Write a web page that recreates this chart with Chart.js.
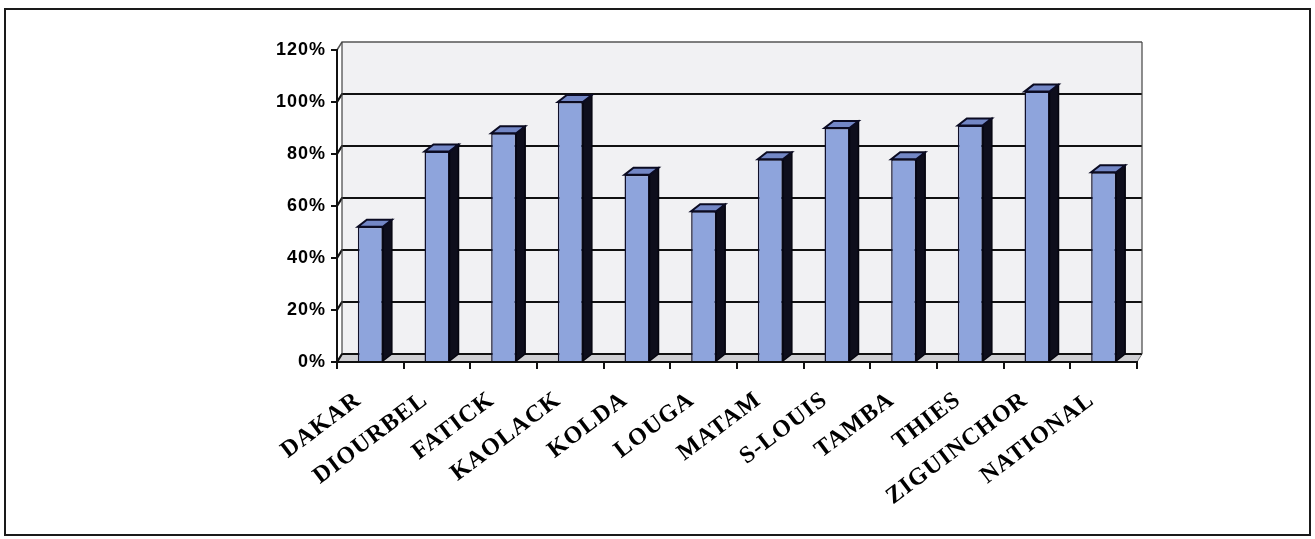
<!DOCTYPE html>
<html>
<head>
<meta charset="utf-8">
<script src="https://cdn.jsdelivr.net/npm/chart.js@4.4.1/dist/chart.umd.min.js"></script>
<style>
  html, body { margin: 0; padding: 0; background: #fff; }
  #wrap { position: relative; width: 1315px; height: 539px; }
</style>
</head>
<body>
<div id="wrap"><canvas id="myChart" width="1315" height="539"></canvas></div>
<script>
// Taux par région (en %)
const regions = ['DAKAR', 'DIOURBEL', 'FATICK', 'KAOLACK', 'KOLDA', 'LOUGA', 'MATAM', 'S-LOUIS', 'TAMBA', 'THIES', 'ZIGUINCHOR', 'NATIONAL'];
const taux = [52, 81, 88, 100, 72, 58, 78, 90, 78, 91, 104, 73];
const yTicks = [0, 20, 40, 60, 80, 100, 120];

// profondeur des barres et décalage du mur du fond (effet 3D)
const DEPTH = { x: 9, y: -7 };
const WALL = { x: 5, y: -8 };

function poly(ctx, pts) {
    ctx.beginPath();
    ctx.moveTo(pts[0][0], pts[0][1]);
    for (let i = 1; i < pts.length; i++) ctx.lineTo(pts[i][0], pts[i][1]);
    ctx.closePath();
}

const relief = {
    id: 'relief',
    beforeLayout(chart) {
        chart.ctx.letterSpacing = '1px';
    },
    beforeDraw(chart) {
        const { ctx, chartArea: a, scales: { y } } = chart;
        ctx.letterSpacing = '1px';
        ctx.save();
        ctx.fillStyle = '#fff';
        ctx.fillRect(0, 0, chart.width, chart.height);

        // cadre de la figure
        ctx.strokeStyle = '#1a1a1a';
        ctx.lineWidth = 2;
        ctx.strokeRect(5, 9, 1305, 526);

        // mur du fond
        ctx.fillStyle = '#f1f1f3';
        ctx.fillRect(a.left + WALL.x, a.top + WALL.y, a.right - a.left, a.bottom - a.top);

        // sol
        poly(ctx, [[a.left, a.bottom], [a.right, a.bottom], [a.right + WALL.x, a.bottom + WALL.y], [a.left + WALL.x, a.bottom + WALL.y]]);
        ctx.fillStyle = '#cfcfd3';
        ctx.fill();
        ctx.strokeStyle = '#777';
        ctx.lineWidth = 1;
        ctx.stroke();

        // lignes de quadrillage sur le mur + raccords sur la paroi gauche
        yTicks.forEach(v => {
            const py = y.getPixelForValue(v);
            ctx.strokeStyle = v === 120 ? '#555' : '#111';
            ctx.lineWidth = v === 120 ? 1.5 : 2.2;
            ctx.beginPath();
            ctx.moveTo(a.left, py);
            ctx.lineTo(a.left + WALL.x, py + WALL.y);
            ctx.lineTo(a.right + WALL.x, py + WALL.y);
            ctx.stroke();
        });

        // bords du mur
        ctx.strokeStyle = '#444';
        ctx.lineWidth = 1.2;
        ctx.beginPath();
        ctx.moveTo(a.left + WALL.x, a.top + WALL.y);
        ctx.lineTo(a.left + WALL.x, a.bottom + WALL.y);
        ctx.moveTo(a.right + WALL.x, a.top + WALL.y);
        ctx.lineTo(a.right + WALL.x, a.bottom + WALL.y);
        ctx.stroke();
        ctx.restore();
    },
    afterDatasetsDraw(chart) {
        const ctx = chart.ctx;
        const meta = chart.getDatasetMeta(0);
        ctx.save();
        meta.data.forEach(bar => {
            const { x, y, base, width } = bar.getProps(['x', 'y', 'base', 'width'], true);
            const l = x - width / 2, r = x + width / 2;
            // face latérale
            poly(ctx, [[r, y], [r + DEPTH.x, y + DEPTH.y], [r + DEPTH.x, base + DEPTH.y], [r, base]]);
            ctx.fillStyle = '#0e0e1c';
            ctx.fill();
            ctx.strokeStyle = '#05050f';
            ctx.lineWidth = 1.5;
            ctx.stroke();
            // dessus
            poly(ctx, [[l, y], [r, y], [r + DEPTH.x, y + DEPTH.y], [l + DEPTH.x, y + DEPTH.y]]);
            ctx.fillStyle = '#7387c6';
            ctx.fill();
            ctx.strokeStyle = '#0b0b22';
            ctx.lineWidth = 2;
            ctx.stroke();
        });
        ctx.restore();
    }
};

const ctx = document.getElementById('myChart').getContext('2d');
const myChart = new Chart(ctx, {
    type: 'bar',
    data: {
        labels: regions,
        datasets: [{
            data: taux,
            backgroundColor: '#8ea4dc',
            borderColor: '#10102a',
            borderWidth: 1.5,
            categoryPercentage: 1,
            barPercentage: 0.375
        }]
    },
    options: {
        responsive: false,
        devicePixelRatio: 1,
        animation: false,
        layout: { padding: { left: 257, right: 178, top: 50, bottom: 0 } },
        plugins: { legend: { display: false }, tooltip: { enabled: false } },
        scales: {
            x: {
                grid: { display: true, drawOnChartArea: false, drawTicks: true, tickLength: 7, color: '#111', lineWidth: 2, offset: true },
                border: { display: true, color: '#111', width: 2 },
                ticks: {
                    autoSkip: false, maxRotation: 37, minRotation: 37, padding: 17, labelOffset: -12, color: '#000',
                    font: { family: "'Liberation Serif', 'Times New Roman', serif", weight: 'bold', size: 24 }
                },
                afterFit(s) { s.height = 177; }
            },
            y: {
                min: 0,
                max: 120,
                afterBuildTicks(s) { s.ticks = yTicks.map(v => ({ value: v })); },
                ticks: {
                    callback: v => v + '%', padding: 5, color: '#000',
                    font: { family: "'Liberation Sans', Arial, sans-serif", weight: 'bold', size: 18 }
                },
                grid: { drawOnChartArea: false, drawTicks: true, tickLength: 6, color: '#111', lineWidth: 2 },
                border: { display: true, color: '#111', width: 2 },
                afterFit(s) { s.width = 80; }
            }
        }
    },
    plugins: [relief]
});
</script>
</body>
</html>
